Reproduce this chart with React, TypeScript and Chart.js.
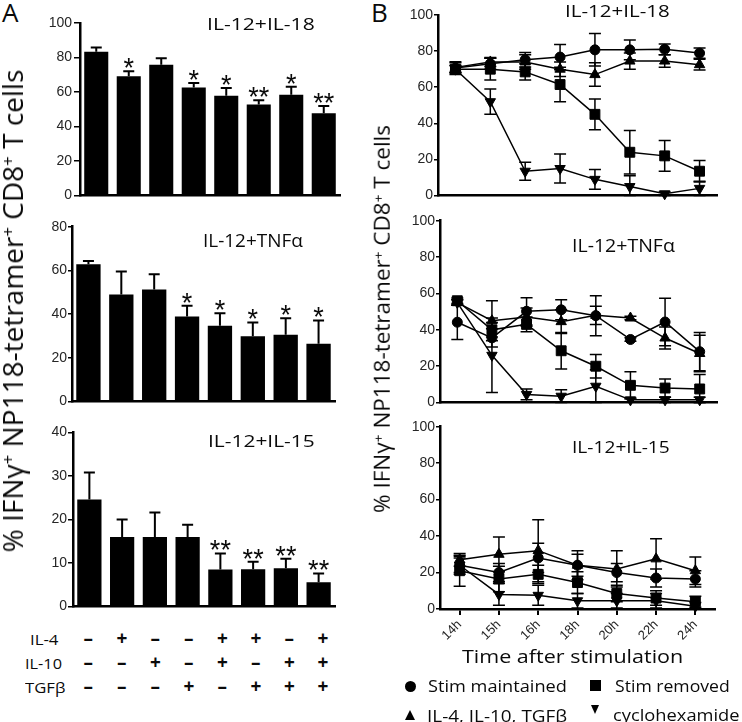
import React, { useEffect, useRef } from 'react';
import { Chart, registerables } from 'chart.js';

Chart.register(...registerables);

// ---------------- Panel A: cytokine combinations ----------------
const comboIds = ['none', 'IL-4', 'IL-10', 'TGFβ', 'IL-4+IL-10', 'IL-4+TGFβ', 'IL-10+TGFβ', 'all'];
const il4Signs = ['–', '+', '–', '–', '+', '+', '–', '+'];
const il10Signs = ['–', '–', '+', '–', '+', '–', '+', '+'];
const tgfbSigns = ['–', '–', '–', '+', '–', '+', '+', '+'];

const aIL18Mean = [83.4, 69.2, 75.8, 62.6, 57.9, 52.8, 58.5, 47.7];
const aIL18Err = [2.4, 2.8, 3.8, 2.7, 4.4, 2.5, 4.5, 4.2];
const aIL18Stars = ['', '*', '', '*', '*', '**', '*', '**'];
const aIL18Ticks = { max: 100, step: 20 };

const aTNFMean = [62.8, 49.0, 51.3, 38.9, 34.7, 29.9, 30.6, 26.5];
const aTNFErr = [1.5, 10.5, 7.0, 4.9, 5.7, 6.3, 7.5, 10.6];
const aTNFStars = ['', '', '', '*', '*', '*', '*', '*'];
const aTNFTicks = { max: 80, step: 20 };

const aIL15Mean = [24.6, 16.0, 16.0, 16.0, 8.5, 8.6, 8.8, 5.6];
const aIL15Err = [6.2, 4.0, 5.6, 2.8, 3.7, 1.7, 2.2, 2.0];
const aIL15Stars = ['', '', '', '', '**', '**', '**', '**'];
const aIL15Ticks = { max: 40, step: 10 };

// ---------------- Panel B: time course ----------------
const timesFine = ['14h', '15h', '16h', '17h', '18h', '20h', '22h', '24h'];
const timesB = ['14h', '15h', '16h', '18h', '20h', '22h', '24h'];
const legendNames = ['Stim maintained', 'Stim removed', 'IL-4, IL-10, TGFβ', 'cyclohexamide'];

const b18Maint = [70.6, 73.0, 75.2, 76.7, 80.7, 80.7, 81.0, 78.9];
const b18MaintErr = [3.5, 3.0, 4.0, 7.0, 9.0, 5.5, 3.0, 2.8];
const b18IL = [71.0, 74.0, 74.0, 70.0, 67.0, 74.5, 74.5, 72.5];
const b18ILErr = [2.5, 2.5, 4.0, 4.0, 6.5, 4.5, 3.5, 3.0];
const b18Removed = [70.0, 70.0, 68.5, 61.5, 45.0, 24.0, 22.0, 13.5];
const b18RemovedErr = [2.0, 6.0, 4.5, 9.5, 8.5, 12.0, 8.5, 6.0];
const b18Chx = [70.0, 52.0, 13.5, 15.0, 9.0, 5.0, 1.0, 4.0];
const b18ChxErr = [2.0, 7.0, 5.0, 8.0, 5.5, 6.0, 1.0, 4.0];

const bTNFMaint = [44.2, 35.6, 50.2, 51.0, 47.8, 34.7, 44.3, 28.0];
const bTNFMaintErr = [9.5, 5.0, 7.5, 5.5, 11.0, 1.0, 13.0, 10.5];
const bTNFIL = [55.0, 45.0, 47.0, 44.5, 48.0, 46.5, 35.5, 27.0];
const bTNFILErr = [1.5, 11.0, 5.0, 6.5, 5.0, 1.0, 6.0, 10.0];
const bTNFRemoved = [56.0, 40.0, 43.0, 28.5, 20.0, 9.5, 8.0, 7.5];
const bTNFRemovedErr = [1.5, 4.0, 4.0, 10.0, 6.5, 7.5, 5.0, 8.0];
const bTNFChx = [55.0, 26.0, 4.5, 3.5, 9.0, 1.5, 1.5, 1.5];
const bTNFChxErr = [1.5, 20.5, 3.0, 3.5, 9.0, 1.0, 1.5, 1.5];

const b15Maint = [24.0, 20.0, 28.0, 24.0, 20.0, 17.0, 16.5];
const b15MaintErr = [5.0, 5.0, 8.0, 6.0, 5.0, 5.0, 4.5];
const b15IL = [27.0, 30.0, 32.0, 24.0, 22.0, 27.5, 21.0];
const b15ILErr = [3.5, 9.5, 17.0, 8.0, 10.0, 11.0, 7.5];
const b15Removed = [21.0, 16.5, 19.0, 14.5, 8.5, 6.0, 4.0];
const b15RemovedErr = [8.5, 7.0, 5.0, 6.0, 4.5, 4.0, 3.0];
const b15Chx = [24.0, 8.0, 7.5, 4.5, 4.5, 4.5, 1.5];
const b15ChxErr = [4.0, 6.0, 5.5, 4.0, 4.0, 4.0, 2.0];
const bTicks = { max: 100, step: 20 };

// ---------------- helpers ----------------
const TICK_FAMILY = '"Liberation Sans", Arial, Helvetica, sans-serif';
const TEXT_FAMILY = '"Open Sans", "Liberation Sans", sans-serif';
const INK = '#0a0a0a';

const errorBars = {
  id: 'errorBars',
  afterDatasetsDraw(chart: any, _a: any, opts: any) {
    const ctx = chart.ctx;
    const y = chart.scales.y;
    ctx.save();
    ctx.strokeStyle = '#000';
    ctx.lineWidth = opts.width ?? 1.5;
    const cap = opts.cap ?? 6;
    chart.data.datasets.forEach((ds: any, di: number) => {
      if (!ds.errors) return;
      const meta = chart.getDatasetMeta(di);
      meta.data.forEach((el: any, i: number) => {
        const v = ds.data[i];
        const e = ds.errors[i];
        if (v == null) return;
        const x = el.x;
        const yTop = y.getPixelForValue(v + e);
        const yBot = opts.upOnly ? y.getPixelForValue(v) : y.getPixelForValue(Math.max(v - e, y.min));
        ctx.beginPath();
        ctx.moveTo(x, yBot);
        ctx.lineTo(x, yTop);
        ctx.moveTo(x - cap, yTop);
        ctx.lineTo(x + cap, yTop);
        if (!opts.upOnly) {
          ctx.moveTo(x - cap, yBot);
          ctx.lineTo(x + cap, yBot);
        }
        ctx.stroke();
        const s = ds.stars ? ds.stars[i] : '';
        if (s) {
          ctx.font = `27px ${TICK_FAMILY}`;
          ctx.fillStyle = INK;
          ctx.textAlign = 'center';
          ctx.textBaseline = 'alphabetic';
          const m = ctx.measureText(s);
          const inkBottom = yTop - 3;
          ctx.fillText(s, x, inkBottom - m.actualBoundingBoxDescent);
        }
      });
    });
    ctx.restore();
  },
};

type Box = { L: number; R: number; T: number; B: number };
type Pads = { yW: number; padT: number; padR: number; xH: number };

function ChartBox({ box, yW, padT, padR, xH, make }: { box: Box; yW: number; padT: number; padR: number; xH: number; make: (p: Pads) => any }) {
  const ref = useRef<HTMLCanvasElement>(null);
  const left = Math.floor(box.L - yW);
  const top = Math.floor(box.T - padT);
  const width = Math.ceil(box.R + padR - left);
  const height = Math.ceil(box.B + xH - top);
  const pads: Pads = { yW: box.L - left, padT: box.T - top, padR: left + width - box.R, xH: top + height - box.B };
  useEffect(() => {
    const c = new Chart(ref.current as HTMLCanvasElement, make(pads));
    return () => c.destroy();
  }, []);
  return <canvas ref={ref} width={width} height={height} style={{ position: 'absolute', left, top, width, height }} />;
}

function yAxis(max: number, step: number, p: Pads, tickLen: number, pad: number) {
  return {
    min: 0,
    max,
    ticks: { stepSize: step, color: '#262626', font: { family: TICK_FAMILY, size: 14 }, padding: pad },
    grid: { display: true, drawOnChartArea: false, drawTicks: true, tickLength: tickLen, color: '#000', lineWidth: 1.5 },
    border: { display: true, color: '#000', width: 2.5 },
    afterFit: (s: any) => { s.width = p.yW; },
  };
}

function baseOptions(p: Pads) {
  return {
    responsive: false,
    maintainAspectRatio: false,
    animation: false,
    devicePixelRatio: 1,
    events: [],
    layout: { autoPadding: false, padding: { left: 0, top: p.padT, right: p.padR, bottom: 0 } },
  };
}

function barConfig(mean: number[], err: number[], stars: string[], ticks: { max: number; step: number }, tickLen: number, pad: number) {
  return (p: Pads) => ({
    type: 'bar',
    data: {
      labels: comboIds,
      datasets: [{ data: mean, errors: err, stars, backgroundColor: '#000', borderWidth: 0, barPercentage: 0.74, categoryPercentage: 1 }],
    },
    options: {
      ...baseOptions(p),
      plugins: { legend: { display: false }, tooltip: { enabled: false }, errorBars: { upOnly: true, cap: 5.5, width: 2 } },
      scales: {
        x: {
          ticks: { display: false },
          grid: { display: false, drawTicks: false },
          border: { display: true, color: '#000', width: 2.5 },
          afterFit: (s: any) => { s.height = p.xH; },
        },
        y: yAxis(ticks.max, ticks.step, p, tickLen, pad),
      },
    },
    plugins: [errorBars],
  });
}

type Series = { data: number[]; errors: number[]; style: string; rot: number; r: number };

function lineConfig(labels: string[], series: Series[], showX: boolean) {
  return (p: Pads) => ({
    type: 'line',
    data: {
      labels,
      datasets: series.map((s) => ({
        data: s.data,
        errors: s.errors,
        borderColor: '#000',
        backgroundColor: '#000',
        borderWidth: 1.5,
        pointStyle: s.style,
        pointRotation: s.rot,
        pointRadius: s.r,
        pointBackgroundColor: '#000',
        pointBorderColor: '#000',
        pointBorderWidth: 1,
        tension: 0,
        fill: false,
        clip: false,
      })),
    },
    options: {
      ...baseOptions(p),
      plugins: { legend: { display: false }, tooltip: { enabled: false }, errorBars: { upOnly: false, cap: 6, width: 1.5 } },
      scales: {
        x: {
          offset: true,
          ticks: { display: showX, minRotation: 45, maxRotation: 45, color: '#262626', font: { family: TICK_FAMILY, size: 13 }, padding: 2 },
          grid: { display: showX, drawOnChartArea: false, drawTicks: showX, tickLength: 6, color: '#000', lineWidth: 2, offset: false },
          border: { display: true, color: '#000', width: 2.5 },
          afterFit: (s: any) => { s.height = p.xH; },
        },
        y: yAxis(bTicks.max, bTicks.step, p, 4, 1),
      },
    },
    plugins: [errorBars],
  });
}

function seriesSet(maint: number[], maintE: number[], il: number[], ilE: number[], rem: number[], remE: number[], chx: number[], chxE: number[]): Series[] {
  return [
    { data: maint, errors: maintE, style: 'circle', rot: 0, r: 5 },
    { data: il, errors: ilE, style: 'triangle', rot: 0, r: 6 },
    { data: rem, errors: remE, style: 'rect', rot: 0, r: 7 },
    { data: chx, errors: chxE, style: 'triangle', rot: 180, r: 6 },
  ];
}

// ---------------- text ----------------
function Label({ text, x, base, size, w, weight = 400, anchor = 'left' }: { text: string; x: number; base: number; size: number; w?: number; weight?: number; anchor?: string }) {
  const ref = useRef<HTMLDivElement>(null);
  const top = base - 0.888 * size;
  useEffect(() => {
    const el = ref.current;
    if (!el) return;
    const nat = el.offsetWidth;
    const fw = w ?? nat;
    const sx = w ? w / nat : 1;
    let left = x;
    if (anchor === 'center') left = x - fw / 2;
    if (anchor === 'right') left = x - fw;
    el.style.left = `${left}px`;
    el.style.transform = `scaleX(${sx})`;
    el.style.visibility = 'visible';
  }, []);
  return (
    <div
      ref={ref}
      style={{
        position: 'absolute', left: x, top, fontFamily: TEXT_FAMILY, fontSize: size, fontWeight: weight,
        lineHeight: `${size}px`, whiteSpace: 'nowrap', color: INK, transformOrigin: '0 0', visibility: 'hidden',
      }}
    >
      {text}
    </div>
  );
}

function VTitle({ cx, cy, size }: { cx: number; cy: number; size: number }) {
  const sup = { fontSize: '0.6em', verticalAlign: '0.55em', lineHeight: 0 } as React.CSSProperties;
  return (
    <div
      style={{
        position: 'absolute', left: cx, top: cy, transform: 'translate(-50%, -50%) rotate(-90deg)', fontFamily: TEXT_FAMILY,
        fontSize: size, lineHeight: `${size}px`, whiteSpace: 'nowrap', color: INK,
      }}
    >
      % IFNγ<span style={sup}>+</span> NP118-tetramer<span style={sup}>+</span> CD8<span style={sup}>+</span> T cells
    </div>
  );
}

function Shape({ kind, cx, cy, s }: { kind: string; cx: number; cy: number; s: number }) {
  const base: React.CSSProperties = { position: 'absolute' };
  if (kind === 'circle') return <div style={{ ...base, left: cx - s / 2, top: cy - s / 2, width: s, height: s, borderRadius: '50%', background: '#000' }} />;
  if (kind === 'rect') return <div style={{ ...base, left: cx - s / 2, top: cy - s / 2, width: s, height: s, background: '#000' }} />;
  if (kind === 'up')
    return <div style={{ ...base, left: cx - s / 2, top: cy - s / 2, width: 0, height: 0, borderLeft: `${s / 2}px solid transparent`, borderRight: `${s / 2}px solid transparent`, borderBottom: `${s}px solid #000` }} />;
  return <div style={{ ...base, left: cx - s / 2, top: cy - s / 2, width: 0, height: 0, borderLeft: `${s / 2}px solid transparent`, borderRight: `${s / 2}px solid transparent`, borderTop: `${s}px solid #000` }} />;
}

const tableRows = [
  { name: 'IL-4', signs: il4Signs, base: 645, x: 30, w: 28 },
  { name: 'IL-10', signs: il10Signs, base: 669, x: 25, w: 37 },
  { name: 'TGFβ', signs: tgfbSigns, base: 693, x: 25, w: 40 },
];

export default function App() {
  const colX = (i: number) => 88.5 + i * 33.5;
  return (
    <div style={{ position: 'absolute', left: 0, top: 0, width: 742, height: 722, background: '#fff', overflow: 'hidden' }}>
      <ChartBox box={{ L: 80, R: 340, T: 23, B: 200 }} yW={46} padT={12} padR={6} xH={6} make={barConfig(aIL18Mean, aIL18Err, aIL18Stars, aIL18Ticks, 6, 2)} />
      <ChartBox box={{ L: 72, R: 335, T: 226.7, B: 405 }} yW={46} padT={12} padR={6} xH={6} make={barConfig(aTNFMean, aTNFErr, aTNFStars, aTNFTicks, 4, 1)} />
      <ChartBox box={{ L: 73, R: 335, T: 432.3, B: 610 }} yW={46} padT={12} padR={6} xH={6} make={barConfig(aIL15Mean, aIL15Err, aIL15Stars, aIL15Ticks, 5, 1)} />

      <ChartBox box={{ L: 438, R: 717, T: 15, B: 196.7 }} yW={46} padT={12} padR={10} xH={8} make={lineConfig(timesFine, seriesSet(b18Maint, b18MaintErr, b18IL, b18ILErr, b18Removed, b18RemovedErr, b18Chx, b18ChxErr), false)} />
      <ChartBox box={{ L: 440, R: 717, T: 220.7, B: 403.3 }} yW={46} padT={12} padR={10} xH={8} make={lineConfig(timesFine, seriesSet(bTNFMaint, bTNFMaintErr, bTNFIL, bTNFILErr, bTNFRemoved, bTNFRemovedErr, bTNFChx, bTNFChxErr), false)} />
      <ChartBox box={{ L: 440, R: 715, T: 426.7, B: 609 }} yW={46} padT={12} padR={10} xH={40} make={lineConfig(timesB, seriesSet(b15Maint, b15MaintErr, b15IL, b15ILErr, b15Removed, b15RemovedErr, b15Chx, b15ChxErr), true)} />

      <Label text="A" x={2} base={22} size={26} />
      <Label text="B" x={371} base={22} size={26} />
      <VTitle cx={12} cy={311} size={28} />
      <VTitle cx={382} cy={318.5} size={22.5} />

      <Label text="IL-12+IL-18" x={207} base={30} size={17} w={108} />
      <Label text="IL-12+TNFα" x={203} base={246.7} size={18} w={100} />
      <Label text="IL-12+IL-15" x={208} base={446.7} size={17} w={107} />
      <Label text="IL-12+IL-18" x={565} base={16.7} size={17} w={105} />
      <Label text="IL-12+TNFα" x={572} base={251.7} size={18} w={103} />
      <Label text="IL-12+IL-15" x={572} base={453.3} size={17} w={98} />

      {tableRows.map((r) => (
        <React.Fragment key={r.name}>
          <Label text={r.name} x={r.x} base={r.base} size={15} w={r.w} />
          {r.signs.map((s, i) => (
            <Label key={i} text={s} x={colX(i)} base={r.base + 1} size={19} weight={700} anchor="center" />
          ))}
        </React.Fragment>
      ))}

      <Label text="Time after stimulation" x={462} base={663.3} size={18.7} w={221} />

      <Shape kind="circle" cx={410.3} cy={686} s={11} />
      <Label text={legendNames[0]} x={428} base={691.7} size={17} w={139} />
      <Shape kind="rect" cx={595.5} cy={685.7} s={10.5} />
      <Label text={legendNames[1]} x={615} base={691.7} size={17} w={115} />
      <Shape kind="up" cx={410.3} cy={715} s={10.5} />
      <Label text={legendNames[2]} x={427} base={721.7} size={17} w={140} />
      <Shape kind="down" cx={595.5} cy={709.5} s={9.5} />
      <Label text={legendNames[3]} x={613} base={721} size={17} w={127} />
    </div>
  );
}
